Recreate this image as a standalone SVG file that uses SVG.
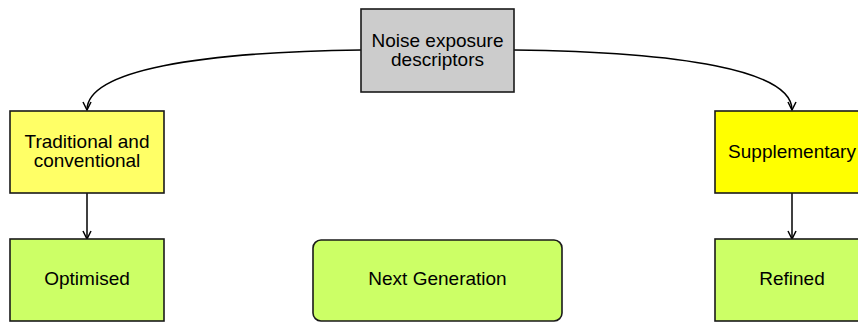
<svg xmlns="http://www.w3.org/2000/svg" width="858" height="322" viewBox="0 0 858 322">
  <style>
    .box { stroke: #1a1a1a; stroke-width: 1.6; }
    .lbl { font-family: "Liberation Sans", Arial, sans-serif; font-size: 19px; fill: #000; text-anchor: middle; }
    .edge { fill: none; stroke: #000; stroke-width: 1.5; marker-end: url(#arr); }
  </style>
  <defs>
    <marker id="arr" viewBox="0 0 10 10" refX="9" refY="5" markerWidth="10" markerHeight="10" markerUnits="userSpaceOnUse" orient="auto">
      <path d="M1,1 L9,5 L1,9" fill="none" stroke="#000" stroke-width="1.5"/>
    </marker>
  </defs>

  <g id="connectors">
    <path class="edge" d="M361,50 C200,52 87,70 87,110"/>
    <path class="edge" d="M514,50 C680,52 792,70 792,110"/>
    <path class="edge" d="M87,193 L87,239"/>
    <path class="edge" d="M792,193 L792,239"/>
  </g>

  <g id="noise">
    <rect class="box" x="361" y="9" width="153" height="83" fill="#cccccc"/>
    <text class="lbl" x="437.5" y="47">Noise exposure</text>
    <text class="lbl" x="437.5" y="66">descriptors</text>
  </g>

  <g id="traditional">
    <rect class="box" x="10" y="111" width="154" height="82" fill="#ffff66"/>
    <text class="lbl" x="87" y="148">Traditional and</text>
    <text class="lbl" x="87" y="167">conventional</text>
  </g>

  <g id="supplementary">
    <rect class="box" x="715" y="111" width="154" height="82" fill="#ffff00"/>
    <text class="lbl" x="792" y="158">Supplementary</text>
  </g>

  <g id="optimised">
    <rect class="box" x="10" y="239" width="154" height="82" fill="#ccff66"/>
    <text class="lbl" x="87" y="285">Optimised</text>
  </g>

  <g id="nextgen">
    <rect class="box" x="313" y="240" width="249" height="81" rx="8" ry="8" fill="#ccff66"/>
    <text class="lbl" x="437.5" y="285">Next Generation</text>
  </g>

  <g id="refined">
    <rect class="box" x="715" y="239" width="154" height="82" fill="#ccff66"/>
    <text class="lbl" x="792" y="285">Refined</text>
  </g>
</svg>
